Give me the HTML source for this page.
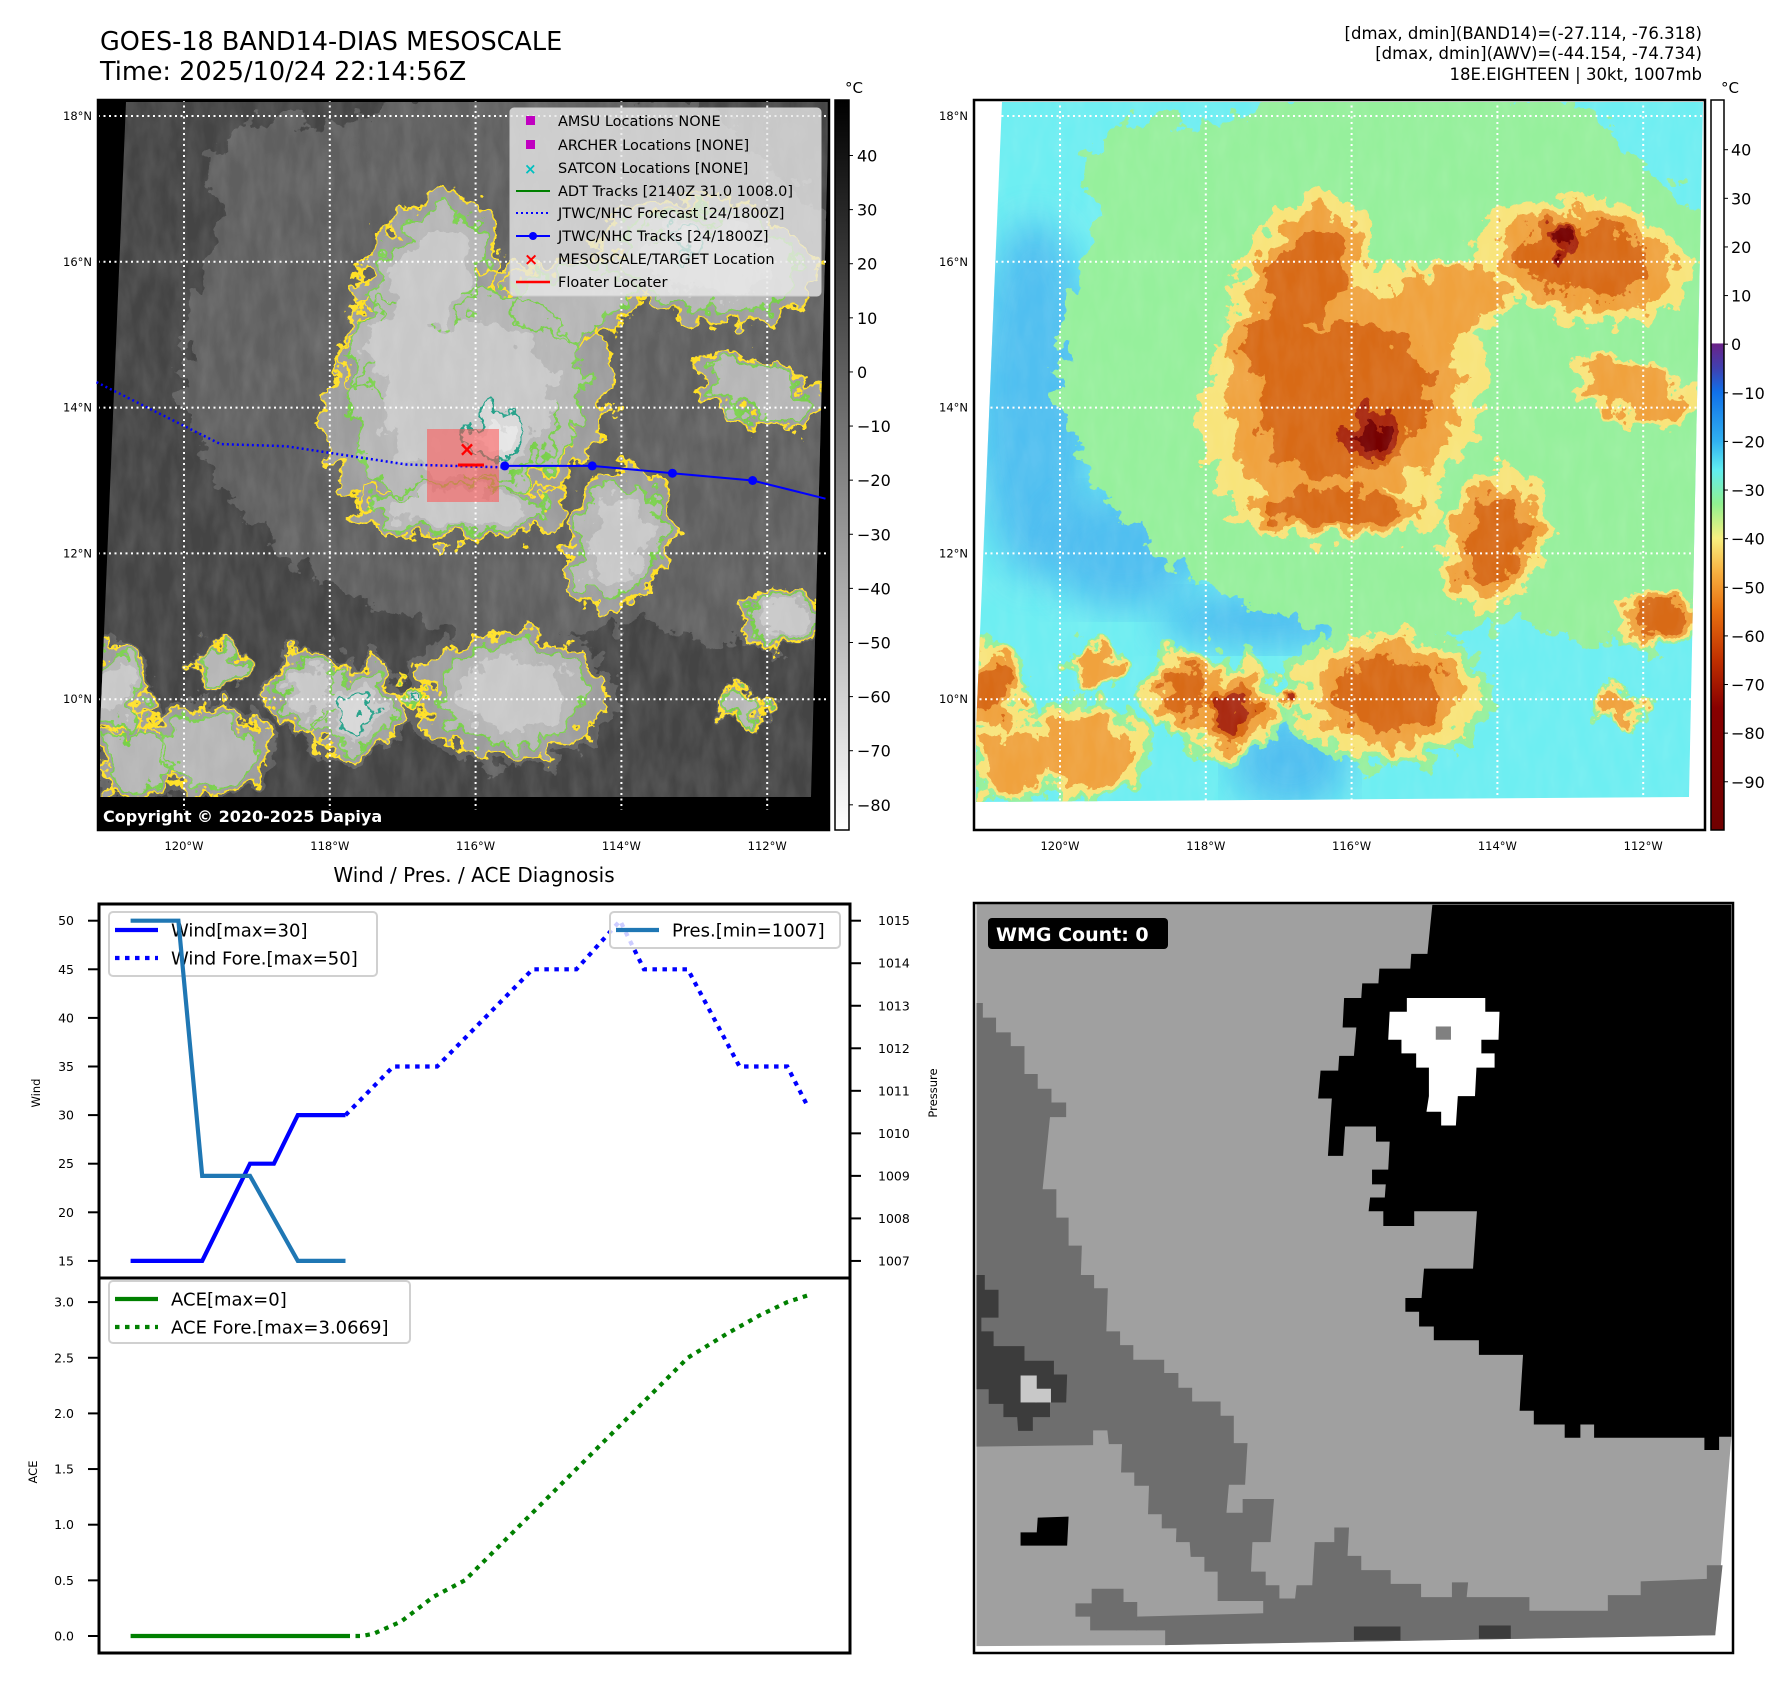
<!DOCTYPE html>
<html><head><meta charset="utf-8">
<style>
html,body{margin:0;padding:0;background:#fff;}
svg{display:block;font-family:"DejaVu Sans","Liberation Sans",sans-serif;}
</style></head>
<body>
<svg id="root" width="1792" height="1690" viewBox="0 0 1792 1690" xmlns="http://www.w3.org/2000/svg">
<defs>
  <filter id="rag" x="-10%" y="-10%" width="120%" height="120%">
    <feTurbulence type="fractalNoise" baseFrequency="0.045" numOctaves="4" seed="7" result="n"/>
    <feDisplacementMap in="SourceGraphic" in2="n" scale="44" xChannelSelector="R" yChannelSelector="G"/>
  </filter>
  <filter id="soft"><feGaussianBlur stdDeviation="18"/></filter>
  <filter id="tex" x="0" y="0" width="100%" height="100%">
    <feTurbulence type="fractalNoise" baseFrequency="0.07 0.025" numOctaves="3" seed="3"/>
    <feColorMatrix type="matrix" values="0 0 0 0 1  0 0 0 0 1  0 0 0 0 1  0 0 0 0.45 -0.12"/>
  </filter>
  <clipPath id="clipL"><polygon points="126,102 829,102 829,103 811,797 100,797 100,730"/></clipPath>
  <clipPath id="clipR"><polygon points="1002,102 1703,102 1703,103 1689,797 976,802 976,730"/></clipPath>
  <linearGradient id="cbL" x1="0" y1="0" x2="0" y2="1">
    <stop offset="0" stop-color="#000"/><stop offset="1" stop-color="#fff"/>
  </linearGradient>
  <linearGradient id="cbR" x1="0" y1="0" x2="0" y2="1">
    <stop offset="0" stop-color="#fff"/><stop offset="0.333" stop-color="#fff"/>
    <stop offset="0.334" stop-color="#6a2288"/><stop offset="0.367" stop-color="#4040b0"/>
    <stop offset="0.40" stop-color="#1070e8"/><stop offset="0.467" stop-color="#30b0f0"/>
    <stop offset="0.507" stop-color="#60eef0"/><stop offset="0.553" stop-color="#90f090"/>
    <stop offset="0.60" stop-color="#f8f080"/><stop offset="0.647" stop-color="#f8b040"/>
    <stop offset="0.70" stop-color="#e87010"/><stop offset="0.767" stop-color="#c03000"/>
    <stop offset="0.833" stop-color="#880000"/><stop offset="1" stop-color="#700000"/>
  </linearGradient>
</defs>

<text x="100" y="50" font-size="25.5">GOES-18 BAND14-DIAS MESOSCALE</text>
<text x="100" y="80" font-size="25.5">Time: 2025/10/24 22:14:56Z</text>
<g font-size="16.5" text-anchor="end">
  <text x="1702" y="39">[dmax, dmin](BAND14)=(-27.114, -76.318)</text>
  <text x="1702" y="59">[dmax, dmin](AWV)=(-44.154, -74.734)</text>
  <text x="1702" y="80">18E.EIGHTEEN | 30kt, 1007mb</text>
</g>

<g id="mapL">
  <rect x="98" y="100" width="731" height="730" fill="#000"/>
  <g clip-path="url(#clipL)">
    <rect x="98" y="100" width="731" height="730" fill="#444"/>
    <g id="lBlobs" transform="translate(98,100)"></g>
    <rect x="98" y="100" width="731" height="730" filter="url(#tex)" opacity="0.4"/>
  </g>
</g>
<g id="mapR">
  <rect x="974" y="100" width="731" height="730" fill="#fff"/>
  <g clip-path="url(#clipR)">
    <rect x="974" y="100" width="731" height="730" fill="#6eeef2"/>
    <g id="rBlobs" transform="translate(974,100)"></g>
    <rect x="974" y="100" width="731" height="730" filter="url(#tex)" opacity="0.3"/>
  </g>
</g>
<g id="overlays"></g>
<text x="103" y="822" font-size="16" font-weight="bold" fill="#fff">Copyright © 2020-2025 Dapiya</text>

<rect x="835" y="100" width="14" height="730" fill="url(#cbL)" stroke="#000" stroke-width="1.5"/>
<rect x="1711" y="100" width="13" height="730" fill="url(#cbR)" stroke="#000" stroke-width="1.5"/>
<text x="845" y="93" font-size="15">°C</text>
<text x="1721" y="93" font-size="15">°C</text>
<g id="cbTicks" font-size="16"></g>

<g>
  <rect x="510" y="108" width="311" height="188" rx="4" fill="#e8e8e8" fill-opacity="0.8" stroke="#ccc"/>
  <g font-size="14.5">
    <rect x="526" y="116" width="9" height="9" fill="#c000c0"/><text x="558" y="126">AMSU Locations NONE</text>
    <rect x="526" y="140" width="9" height="9" fill="#c000c0"/><text x="558" y="150">ARCHER Locations [NONE]</text>
    <text x="524" y="174" fill="#00c0c0" font-size="15" font-weight="bold">×</text><text x="558" y="173">SATCON Locations [NONE]</text>
    <line x1="516" y1="191" x2="550" y2="191" stroke="#008000" stroke-width="2"/><text x="558" y="196">ADT Tracks [2140Z 31.0 1008.0]</text>
    <line x1="516" y1="213" x2="550" y2="213" stroke="#00f" stroke-width="2" stroke-dasharray="2 3"/><text x="558" y="218">JTWC/NHC Forecast [24/1800Z]</text>
    <line x1="516" y1="236" x2="550" y2="236" stroke="#00f" stroke-width="2"/><circle cx="533" cy="236" r="4" fill="#00f"/><text x="558" y="241">JTWC/NHC Tracks [24/1800Z]</text>
    <text x="524" y="265" fill="#f00" font-size="17" font-weight="bold">×</text><text x="558" y="264">MESOSCALE/TARGET Location</text>
    <line x1="516" y1="282" x2="550" y2="282" stroke="#f00" stroke-width="2.5"/><text x="558" y="287">Floater Locater</text>
  </g>
</g>

<text x="474" y="882" font-size="20" text-anchor="middle">Wind / Pres. / ACE Diagnosis</text>
<g id="chart"></g>

<g>
<g transform="translate(974,900) scale(0.4902)">
  <polygon fill="#a0a0a0" points="5,8 1545,8 1545,1095 1512,1500 390,1520 5,1522"/>
  <polygon fill="#000" points="935,10 1545,10 1545,1095 1520,1095 1520,1122 1490,1122 1490,1097 1265,1097 1265,1070 1237,1070 1237,1097 1205,1097 1205,1070 1142,1070 1142,1042 1113,1042 1120,928 1030,928 1030,898 938,898 938,870 908,870 908,840 880,840 880,812 913,812 918,752 1018,752 1026,635 898,635 898,665 835,665 835,635 805,635 808,607 838,607 840,580 812,580 812,550 845,550 848,493 820,493 820,462 757,462 753,522 722,522 730,405 702,405 707,348 743,348 745,318 775,318 780,260 752,260 755,200 790,200 792,170 825,170 827,140 890,140 892,110 925,110"/>
  <polygon fill="#fff" points="883,200 1043,200 1043,228 1072,228 1070,285 1035,285 1035,313 1062,313 1062,342 1025,342 1022,400 987,400 983,460 953,460 953,432 923,432 928,400 928,342 902,342 902,313 872,313 872,285 845,285 848,228 883,228"/>
  <rect x="942" y="258" width="31" height="27" fill="#808080"/>
  <polygon fill="#6e6e6e" points="5,210 18,210 18,240 45,240 45,270 75,270 75,298 103,298 103,355 130,355 130,385 158,385 158,413 188,413 188,443 155,443 140,590 168,590 168,648 193,648 193,705 220,705 218,765 245,765 245,792 273,792 270,880 298,880 298,908 325,908 325,938 388,938 388,965 417,965 417,995 445,995 445,1023 503,1023 503,1052 530,1052 530,1108 558,1108 553,1193 520,1193 515,1250 548,1250 548,1222 612,1222 605,1310 568,1310 565,1370 595,1370 595,1398 623,1398 623,1425 655,1425 658,1398 690,1398 695,1310 735,1310 735,1280 765,1280 762,1338 790,1338 790,1367 850,1367 850,1395 912,1395 912,1422 975,1422 975,1392 1008,1392 1005,1422 1133,1422 1133,1450 1293,1450 1293,1418 1360,1418 1360,1390 1495,1385 1495,1357 1527,1357 1512,1500 390,1520 390,1490 330,1490 330,1462 590,1455 590,1430 497,1430 497,1370 470,1370 470,1340 442,1340 440,1310 412,1310 413,1282 383,1282 383,1253 355,1253 357,1195 327,1195 327,1168 300,1168 302,1110 275,1110 272,1082 243,1082 243,1112 5,1115"/>
  <polygon fill="#6e6e6e" points="207,1435 240,1435 240,1405 305,1405 305,1432 333,1432 333,1490 237,1490 237,1462 207,1462"/>
  <polygon fill="#3c3c3c" points="5,765 22,765 22,795 50,795 50,852 15,852 15,880 40,880 40,910 103,910 103,940 163,940 163,968 190,968 188,1025 155,1025 155,1055 120,1055 120,1083 90,1083 88,1055 60,1055 60,1028 30,1028 30,998 5,998"/>
  <rect x="95" y="970" width="33" height="55" fill="#c8c8c8"/><rect x="125" y="997" width="32" height="28" fill="#c8c8c8"/>
  <polygon fill="#000" points="130,1260 193,1258 190,1317 95,1317 95,1290 128,1290"/>
  <rect x="775" y="1482" width="95" height="28" fill="#3c3c3c"/><rect x="1030" y="1480" width="65" height="27" fill="#3c3c3c"/>
</g>
<rect x="974" y="903" width="759" height="750" fill="none" stroke="#000" stroke-width="2.5"/>
<rect x="988" y="918" width="180" height="31" rx="4" fill="#000"/>
<text x="996" y="941" font-size="19" font-weight="bold" fill="#fff">WMG Count: 0</text>
</g>

<script>
const NS='http://www.w3.org/2000/svg';
function mk(tag,attrs,parent){const e=document.createElementNS(NS,tag);for(const k in attrs)e.setAttribute(k,attrs[k]);if(parent)parent.appendChild(e);return e;}

// ---------------- chart data ----------------
const obsHours=[0,6,12,18,24,30,36,42,48,54];
const windObs=[15,15,15,15,20,25,25,30,30,30];
const presObs=[1015,1015,1015,1009,1009,1009,1008,1007,1007,1007];
const aceObs=[0,0,0,0,0,0,0,0,0,0];
const foreHours=[54,66,77,101,112,123,129,140,153,165,170];
const windFore=[30,35,35,45,45,50,45,45,35,35,31];
const aceForeHours=[54,58,61,68,76,84,98,112,126,140,150,158,165,171];
const aceFore=[0,0,0.02,0.13,0.35,0.5,1.0,1.5,2.0,2.5,2.72,2.88,3.0,3.07];
const windTicks=[15,20,25,30,35,40,45,50];
const presTicks=[1007,1008,1009,1010,1011,1012,1013,1014,1015];
const aceTicks=[0,0.5,1,1.5,2,2.5,3];
const aceTickLabels=['0.0','0.5','1.0','1.5','2.0','2.5','3.0'];

const X0=99,X1=850,T=904,MID=1278,B=1653;
const xH=h=>130.6+h*3.98;
const yW=v=>920.7+(50-v)*9.72;
const yP=p=>920.7+(1015-p)*42.53;
const yA=a=>1636-a*111.3;

const ch=document.getElementById('chart');
mk('rect',{x:X0,y:T,width:X1-X0,height:B-T,fill:'#fff'},ch);
function poly(xs,ys,stroke,dash,name){
  const pts=xs.map((x,i)=>x.toFixed(1)+','+ys[i].toFixed(1)).join(' ');
  const e=mk('polyline',{points:pts,fill:'none',stroke:stroke,'stroke-width':4.2,'stroke-linejoin':'miter'},ch);
  if(dash)e.setAttribute('stroke-dasharray',dash);
  
  
  return e;
}
function legend(x,y,w,h,items,name){
  const g=mk('g',{},ch);
  
  
  mk('rect',{x:x,y:y,width:w,height:h,rx:4,fill:'#fff','fill-opacity':0.8,stroke:'#d0d0d0','stroke-width':2},g);
  items.forEach((it,i)=>{
    const yy=y+18+i*28;
    const l=mk('line',{x1:x+6,y1:yy,x2:x+49,y2:yy,stroke:it[1],'stroke-width':4.2},g);
    if(it[2])l.setAttribute('stroke-dasharray','4.5 5.5');
    const t=mk('text',{x:x+62,y:yy+6.5,'font-size':18},g);t.textContent=it[0];
  });
}
poly(obsHours.map(xH),windObs.map(yW),'#0000ff',null,'wind-line');
poly(foreHours.map(xH),windFore.map(yW),'#0000ff','4.5 5.5','wind-forecast-line');
legend(109,912,268,64,[['Wind[max=30]','#0000ff',0],['Wind Fore.[max=50]','#0000ff',1]],'wind-legend');
poly(obsHours.map(xH),presObs.map(yP),'#1f77b4',null,'pressure-line');
legend(610,912,230,36,[['Pres.[min=1007]','#1f77b4',0]],'pressure-legend');
poly(obsHours.map(xH),aceObs.map(yA),'#008000',null,'ace-line');
poly(aceForeHours.map(xH),aceFore.map(yA),'#008000','4.5 5.5','ace-forecast-line');
legend(109,1281,301,62,[['ACE[max=0]','#008000',0],['ACE Fore.[max=3.0669]','#008000',1]],'ace-legend');

mk('rect',{x:X0,y:T,width:X1-X0,height:B-T,fill:'none',stroke:'#000','stroke-width':3},ch);
mk('line',{x1:X0,y1:MID,x2:X1,y2:MID,stroke:'#000','stroke-width':3},ch);

function tick(x1,x2,y,label,tx,anchor,name){
  mk('line',{x1:x1,y1:y,x2:x2,y2:y,stroke:'#000','stroke-width':2},ch);
  const t=mk('text',{x:tx,y:y+4.5,'font-size':12.5,'text-anchor':anchor},ch);
  t.textContent=label;
  
  
}
windTicks.forEach(v=>tick(88,X0,yW(v),String(v),74,'end','wind-tick-label'));
presTicks.forEach(p=>tick(X1,X1+11,yP(p),String(p),878,'start','pressure-tick-label'));
aceTicks.forEach((a,i)=>tick(88,X0,yA(a),aceTickLabels[i],74,'end','ace-tick-label'));
function ylab(x,y,s,name){const t=mk('text',{x:x,y:y,'font-size':11.5,'text-anchor':'middle',transform:`rotate(-90 ${x} ${y})`},ch);t.textContent=s;
  
  }
ylab(40,1093,'Wind','wind-axis-title');
ylab(937,1093,'Pressure','pressure-axis-title');
ylab(37,1472,'ACE','ace-axis-title');

// ---------------- map cloud fields ----------------
const blobCx=[370,400,330,300,610,590,470,520,360,660,686,15,122,110,209,255,413,316,645,40,430,620,200,560];
const blobCy=[300,335,180,250,160,138,200,440,410,290,520,590,565,650,590,610,595,593,608,660,260,380,90,60];
const blobRx=[150,75,60,55,110,50,75,50,110,70,45,35,25,60,35,50,92,14,25,40,300,120,80,70];
const blobRy=[125,55,95,60,62,32,40,75,30,30,28,45,25,45,40,45,62,14,20,40,240,140,60,50];
const blobRot=[-30,-20,25,0,10,10,-10,15,0,20,0,0,0,0,0,0,0,0,0,0,0,0,20,-20];
const blobLevel=[3,5,3,3,3,5,2,3,3,2,3,3,2,2,3,4,3,4,2,2,0,0,0,0];

const levelScale=[1.15,1.0,0.8,0.58,0.4,0.24];
const colorLevels=['#96f09c','#f8e47a','#f0a23e','#d86a18','#a82808','#760000'];
const grayLevels=['#5e5e5e','#9c9c9c','#b6b6b6','#c8c8c8','#d8d8d8','#e6e6e6'];

function drawField(gid,colors,contours){
  const root=document.getElementById(gid);
  for(let L=0;L<6;L++){
    const g=mk('g',{filter:'url(#rag)'},root);
    blobCx.forEach((cx,i)=>{
      if(blobLevel[i]+1<=L)return;
      const s=levelScale[L];
      mk('ellipse',{cx:cx,cy:blobCy[i],rx:blobRx[i]*s,ry:blobRy[i]*s,transform:`rotate(${blobRot[i]} ${cx} ${blobCy[i]})`,fill:colors[L]},g);
    });
    if(contours&&contours[L]){
      const gc=mk('g',{filter:'url(#rag)'},root);
      blobCx.forEach((cx,i)=>{
        if(blobLevel[i]+1<=L)return;
        const s=levelScale[L];
        mk('ellipse',{cx:cx,cy:blobCy[i],rx:blobRx[i]*s,ry:blobRy[i]*s,transform:`rotate(${blobRot[i]} ${cx} ${blobCy[i]})`,fill:'none',stroke:contours[L],'stroke-width':3},gc);
      });
    }
  }
}
const rb=document.getElementById('rBlobs');
[[60,300,60,180],[292,520,110,30],[316,660,60,50],[150,450,80,60]].forEach(p=>{
  mk('ellipse',{cx:p[0],cy:p[1],rx:p[2],ry:p[3],fill:'#48b4f0',filter:'url(#soft)',opacity:0.8},rb);
});
drawField('rBlobs',colorLevels,null);
drawField('lBlobs',grayLevels,[null,'#ffe020','#78d048',null,'#20a088',null]);

// ---------------- grid lines, track ----------------
const lats=[18,16,14,12,10];
const lons=[120,118,116,114,112];
const yLat=lat=>116+(18-lat)*72.9;
const xLon=lon=>184+(120-lon)*72.9;
const ov=document.getElementById('overlays');
mk('rect',{x:98,y:797,width:731,height:33,fill:'#000'},ov);
[0,876].forEach((dx,k)=>{
  lats.forEach(lat=>{
    const l=mk('line',{x1:98+dx,y1:yLat(lat),x2:829+dx,y2:yLat(lat),stroke:'#fff','stroke-width':2,'stroke-dasharray':'2 3.5'},ov);
    
    
    const t=mk('text',{x:92+dx,y:yLat(lat)+4,'font-size':11.5,'text-anchor':'end'},ov);t.textContent=lat+'°N';
    
    
  });
  lons.forEach(lon=>{
    const l=mk('line',{x1:xLon(lon)+dx,y1:100,x2:xLon(lon)+dx,y2:(k===0?810:830),stroke:'#fff','stroke-width':2,'stroke-dasharray':'2 3.5'},ov);
    
    
    const t=mk('text',{x:xLon(lon)+dx,y:850,'font-size':11.5,'text-anchor':'middle'},ov);t.textContent=lon+'°W';
    
    
  });
  mk('rect',{x:98+dx,y:100,width:731,height:730,fill:'none',stroke:'#000','stroke-width':2.5},ov);
});

const boxEl=mk('rect',{x:427,y:429,width:72,height:73,fill:'#ff5050','fill-opacity':0.55},ov);


const trackLon=[119.0,118.2,116.5,115.6,114.4,113.3,112.2,111.2];
const trackLat=[13.5,13.45,13.3,13.2,13.2,13.1,13.0,12.75];
const foreLonPts=[121.2,119.5,118.6,116.95,115.6];
const foreLatPts=[14.35,13.5,13.47,13.22,13.18];
const fp=foreLonPts.map((l,i)=>xLon(l).toFixed(1)+','+yLat(foreLatPts[i]).toFixed(1)).join(' ');
const fl=mk('polyline',{points:fp,fill:'none',stroke:'#00f','stroke-width':2.5,'stroke-dasharray':'2 3'},ov);


const tl=trackLon.slice(3),tla=trackLat.slice(3);
const tp=tl.map((l,i)=>xLon(l).toFixed(1)+','+yLat(tla[i]).toFixed(1)).join(' ');
const tline=mk('polyline',{points:tp,fill:'none',stroke:'#00f','stroke-width':2},ov);


tl.slice(0,4).forEach((l,i)=>{const c=mk('circle',{cx:xLon(l),cy:yLat(tla[i]),r:4.5,fill:'#00f'},ov);
  
  });
mk('line',{x1:458,y1:465,x2:484,y2:465,stroke:'#f00','stroke-width':3},ov);
const xm=mk('text',{x:467,y:456,'font-size':20,'font-weight':'bold',fill:'#f00','text-anchor':'middle'},ov);xm.textContent='×';



// ---------------- colorbar ticks ----------------
const cbLVals=[40,30,20,10,0,-10,-20,-30,-40,-50,-60,-70,-80];
const cbRVals=[40,30,20,10,0,-10,-20,-30,-40,-50,-60,-70,-80,-90];
const cbT=document.getElementById('cbTicks');
cbLVals.forEach(v=>{
  const y=155.5+(40-v)*5.411;
  mk('line',{x1:849,y1:y,x2:853,y2:y,stroke:'#000','stroke-width':1},cbT);
  const t=mk('text',{x:857,y:y+6},cbT);t.textContent=String(v).replace('-','−');
  
  
});
cbRVals.forEach(v=>{
  const y=149.7+(40-v)*4.862;
  mk('line',{x1:1724,y1:y,x2:1728,y2:y,stroke:'#000','stroke-width':1},cbT);
  const t=mk('text',{x:1731,y:y+6},cbT);t.textContent=String(v).replace('-','−');
  
  
});
</script>
</svg>
</body></html>
